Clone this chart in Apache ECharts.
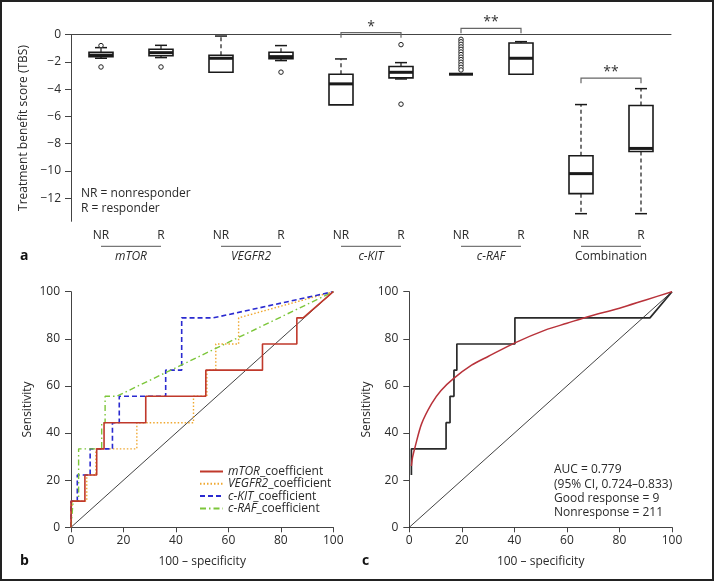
<!DOCTYPE html>
<html>
<head>
<meta charset="utf-8">
<script src="https://cdn.jsdelivr.net/npm/echarts@6/dist/echarts.min.js"></script>
<style>
html,body{margin:0;padding:0;background:#fff;}
#chart{width:714px;height:581px;}
</style>
</head>
<body>
<div id="chart"></div>
<script>
// ---------- Panel a data ----------
const categories = ['NR','R','NR','R','NR','R','NR','R','NR','R'];
const groupNames = ['mTOR','VEGFR2','c-KIT','c-RAF','Combination'];
const boxLow    = [-1.73, -1.68, -2.76, -1.90, -5.15, -3.25, -2.90, -2.90, -13.14, -13.14];
const boxQ1     = [-1.61, -1.54, -2.76, -1.76, -5.15, -3.17, -2.90, -2.90, -11.67, -8.57];
const boxMedian = [-1.50, -1.32, -1.73, -1.61, -3.61, -2.76, -2.90, -1.73, -10.20, -8.35];
const boxQ3     = [-1.29, -1.07, -1.51, -1.29, -2.90, -2.34, -2.90, -0.61, -8.89, -5.20];
const boxHigh   = [-0.95, -0.78, -0.10, -0.80, -1.78, -2.05, -2.90, -0.51, -5.13, -3.96];
const outlierPoints = [
  [0,-0.80],[0,-2.37],[1,-2.37],[3,-2.75],[5,-0.73],[5,-5.10],
  [6,-0.34],[6,-0.52],[6,-0.71],[6,-0.90],[6,-1.08],[6,-1.27],[6,-1.46],
  [6,-1.65],[6,-1.83],[6,-2.02],[6,-2.21],[6,-2.40],[6,-2.59]
];
const sigFrom   = [4, 6, 8];
const sigTo     = [5, 7, 9];
const sigLevel  = [0.15, 0.47, -3.19];
const sigLabels = ['*', '**', '**'];
const yTicksA   = [0, -2, -4, -6, -8, -10, -12];
const yMinA = -13.7, yMaxA = 0;

// ---------- Panel b data ----------
const rocMTOR = [[0,0],[0,11.1],[5.3,11.1],[5.3,22.2],[9.8,22.2],[9.8,33.3],[12.6,33.3],[12.6,44.4],[28.5,44.4],[28.5,55.6],[51.4,55.6],[51.4,66.7],[73,66.7],[73,77.8],[86.1,77.8],[86.1,88.9],[88.5,88.9],[100,100]];
const rocVEGFR2 = [[0,0],[0.5,11.1],[6,11.1],[6,22.2],[9.5,22.2],[9.5,33.3],[25.1,33.3],[25.1,44.4],[46.7,44.4],[46.7,55.6],[51.8,55.6],[51.8,66.7],[55.2,66.7],[55.2,77.8],[63.9,77.8],[63.9,88.9],[100,100]];
const rocCKIT = [[0,0],[0,11.1],[2.4,11.1],[2.4,22.2],[7.3,22.2],[7.3,33.3],[15.8,33.3],[15.8,44.4],[18.4,44.4],[18.4,55.6],[36.1,55.6],[36.1,66.7],[42.2,66.7],[42.2,88.9],[54.3,88.9],[100,100]];
const rocCRAF = [[0,0],[0.8,11.1],[2.9,11.1],[2.9,33.3],[11.7,33.3],[11.7,44.4],[13,44.4],[13,55.6],[17.4,55.6],[100,100]];
const diagonal = [[0,0],[100,100]];

// ---------- Panel c data ----------
const rocCombined = [[0.8,22.2],[0.8,33.3],[14,33.3],[14,44.4],[15.5,44.4],[15.5,55.6],[17,55.6],[17,66.7],[18.1,66.7],[18.1,77.8],[40.2,77.8],[40.2,88.9],[91.6,88.9],[100,100]];
const rocFitted = [[0.8,26],[1.2,29.5],[2.2,34.1],[4.7,44],[8.5,52.5],[12,58],[16.8,63.1],[23.7,68.8],[30,72.5],[40.2,78.3],[51.7,83.7],[60,86.6],[68,89.4],[80,93],[90,96.5],[100,100]];
const aucText = ['AUC = 0.779','(95% CI, 0.724\u20130.833)','Good response = 9','Nonresponse = 211'];

// ---------- Rendering ----------
const FONT = '"Open Sans", sans-serif';
const TXT = '#2a2a2a';
const AX = '#444';
const chart = echarts.init(document.getElementById('chart'), null, {renderer:'canvas'});

const boxData = categories.map((c,i)=>[i, boxLow[i], boxQ1[i], boxMedian[i], boxQ3[i], boxHigh[i]]);
const sigData = sigFrom.map((f,k)=>[f, sigTo[k], sigLevel[k]]);
const groupData = groupNames.map((g,k)=>[2*k, 2*k+1]);

function renderBox(params, api){
  const i = api.value(0);
  const pLow = api.coord([i, api.value(1)]);
  const cx = pLow[0], yLow = pLow[1];
  const yQ1 = api.coord([i, api.value(2)])[1];
  const yMed = api.coord([i, api.value(3)])[1];
  const yQ3 = api.coord([i, api.value(4)])[1];
  const yHigh = api.coord([i, api.value(5)])[1];
  const bw = 24, cw = 12, stroke = '#1a1a1a';
  const ch = [];
  if (yHigh < yQ3 - 0.5) {
    ch.push({type:'line', shape:{x1:cx,y1:yQ3,x2:cx,y2:yHigh}, style:{stroke, lineWidth:1.2, lineDash:[4,3]}});
    ch.push({type:'line', shape:{x1:cx-cw/2,y1:yHigh,x2:cx+cw/2,y2:yHigh}, style:{stroke, lineWidth:1.5}});
  }
  if (yLow > yQ1 + 0.5) {
    ch.push({type:'line', shape:{x1:cx,y1:yQ1,x2:cx,y2:yLow}, style:{stroke, lineWidth:1.2, lineDash:[4,3]}});
    ch.push({type:'line', shape:{x1:cx-cw/2,y1:yLow,x2:cx+cw/2,y2:yLow}, style:{stroke, lineWidth:1.5}});
  }
  ch.push({type:'rect', shape:{x:cx-bw/2, y:yQ3, width:bw, height:Math.max(0, yQ1-yQ3)}, style:{fill:'#fff', stroke, lineWidth:1.6}});
  ch.push({type:'line', shape:{x1:cx-bw/2,y1:yMed,x2:cx+bw/2,y2:yMed}, style:{stroke, lineWidth:3}});
  return {type:'group', children:ch};
}

function renderSig(params, api){
  const a = api.coord([api.value(0), api.value(2)]);
  const b = api.coord([api.value(1), api.value(2)]);
  const leg = 5;
  return {type:'group', children:[
    {type:'polyline', shape:{points:[[a[0],a[1]+leg],[a[0],a[1]],[b[0],b[1]],[b[0],b[1]+leg]]}, style:{stroke:'#666', lineWidth:1.2, fill:null}},
    {type:'text', style:{text:sigLabels[params.dataIndex], x:(a[0]+b[0])/2, y:a[1]-6, align:'center', verticalAlign:'middle', font:'14px ' + FONT, fill:'#333'}}
  ]};
}

function renderGroup(params, api){
  const a = api.coord([api.value(0), yMinA]);
  const b = api.coord([api.value(1), yMinA]);
  const k = params.dataIndex;
  const italic = k < 4;
  return {type:'group', children:[
    {type:'line', shape:{x1:a[0], y1:a[1]+25, x2:b[0], y2:a[1]+25}, style:{stroke:'#555', lineWidth:1}},
    {type:'text', style:{text:groupNames[k], x:(a[0]+b[0])/2, y:a[1]+35, align:'center', verticalAlign:'middle', font:(italic?'italic ':'') + '12px ' + FONT, fill:TXT}}
  ]};
}

const valueAxisCommon = {
  type:'value', min:0, max:100, interval:20,
  axisLine:{show:true, lineStyle:{color:AX, width:1}},
  axisTick:{show:true, length:5, lineStyle:{color:AX}},
  splitLine:{show:false},
  axisLabel:{fontSize:12, fontFamily:FONT, color:TXT},
  nameLocation:'middle',
  nameTextStyle:{fontSize:12, fontFamily:FONT, color:TXT}
};

const option = {
  animation:false,
  backgroundColor:'#fff',
  textStyle:{fontFamily:FONT},
  grid:[
    {left:71, top:34.7, width:600, height:186.6},
    {left:71, top:291.7, width:262.3, height:235.6},
    {left:409.3, top:291.7, width:262.7, height:235.6}
  ],
  xAxis:[
    {type:'category', gridIndex:0, data:categories, boundaryGap:true,
     axisLine:{lineStyle:{color:AX}},
     axisTick:{alignWithLabel:true, length:5, lineStyle:{color:AX}},
     axisLabel:{fontSize:12, fontFamily:FONT, color:TXT, margin:8, interval:0}},
    Object.assign({}, valueAxisCommon, {gridIndex:1, name:'100 \u2013 specificity', nameGap:28,
      axisLabel:Object.assign({}, valueAxisCommon.axisLabel, {margin:7})}),
    Object.assign({}, valueAxisCommon, {gridIndex:2, name:'100 \u2013 specificity', nameGap:28,
      axisLabel:Object.assign({}, valueAxisCommon.axisLabel, {margin:7})})
  ],
  yAxis:[
    {type:'value', gridIndex:0, min:yMinA, max:yMaxA,
     name:'Treatment benefit score (TBS)', nameLocation:'middle', nameGap:37,
     nameTextStyle:{fontSize:12, fontFamily:FONT, color:TXT},
     axisLine:{show:true, lineStyle:{color:AX}},
     axisTick:{show:true, length:6, lineStyle:{color:AX}, customValues:yTicksA},
     axisLabel:{fontSize:12, fontFamily:FONT, color:TXT, margin:10, customValues:yTicksA,
       formatter:v=>String(v).replace('-', '\u2212')},
     splitLine:{show:false}},
    Object.assign({}, valueAxisCommon, {gridIndex:1, name:'Sensitivity', nameGap:37,
      axisTick:{show:true, length:6, lineStyle:{color:AX}},
      axisLabel:Object.assign({}, valueAxisCommon.axisLabel, {margin:11})}),
    Object.assign({}, valueAxisCommon, {gridIndex:2, name:'Sensitivity', nameGap:37,
      axisTick:{show:true, length:6, lineStyle:{color:AX}},
      axisLabel:Object.assign({}, valueAxisCommon.axisLabel, {margin:11})})
  ],
  legend:{
    orient:'vertical', left:199, top:465.5, padding:0,
    itemWidth:23, itemHeight:14, itemGap:0.3,
    itemStyle:{opacity:0},
    data:['mTOR','VEGFR2','c-KIT','c-RAF'],
    formatter:n=>'{i|' + n + '}{n|_coefficient}',
    textStyle:{fontSize:12, fontFamily:FONT, color:TXT,
      rich:{i:{fontStyle:'italic', fontSize:12, fontFamily:FONT, color:TXT}, n:{fontSize:12, fontFamily:FONT, color:TXT}}}
  },
  series:[
    {type:'custom', name:'groups', xAxisIndex:0, yAxisIndex:0, clip:false, silent:true, z:1,
     renderItem:renderGroup, data:groupData},
    {type:'custom', name:'boxes', xAxisIndex:0, yAxisIndex:0, clip:false, silent:true, z:2,
     renderItem:renderBox, encode:{x:0, y:[1,2,3,4,5]}, data:boxData},
    {type:'scatter', name:'outliers', xAxisIndex:0, yAxisIndex:0, silent:true, z:3,
     symbol:'circle', symbolSize:4.5,
     itemStyle:{color:'#fff', borderColor:'#222', borderWidth:1, opacity:1},
     data:outlierPoints},
    {type:'custom', name:'sig', xAxisIndex:0, yAxisIndex:0, clip:false, silent:true, z:2,
     renderItem:renderSig, data:sigData},

    {type:'line', name:'diagB', xAxisIndex:1, yAxisIndex:1, data:diagonal, symbol:'none', silent:true,
     lineStyle:{color:'#111', width:0.8}, z:1},
    {type:'line', name:'mTOR', xAxisIndex:1, yAxisIndex:1, data:rocMTOR, symbol:'none',
     lineStyle:{color:'#c0392b', width:1.6}, itemStyle:{color:'#c0392b'}, z:5},
    {type:'line', name:'VEGFR2', xAxisIndex:1, yAxisIndex:1, data:rocVEGFR2, symbol:'none',
     lineStyle:{color:'#f0a830', width:1.4, type:[1.5,2]}, itemStyle:{color:'#f0a830'}, z:4},
    {type:'line', name:'c-KIT', xAxisIndex:1, yAxisIndex:1, data:rocCKIT, symbol:'none',
     lineStyle:{color:'#2a2ad0', width:1.6, type:[5,3]}, itemStyle:{color:'#2a2ad0'}, z:4},
    {type:'line', name:'c-RAF', xAxisIndex:1, yAxisIndex:1, data:rocCRAF, symbol:'none',
     lineStyle:{color:'#7cc63a', width:1.4, type:[6,3,1.5,3]}, itemStyle:{color:'#7cc63a'}, z:4},

    {type:'line', name:'diagC', xAxisIndex:2, yAxisIndex:2, data:diagonal, symbol:'none', silent:true,
     lineStyle:{color:'#111', width:0.8}, z:1},
    {type:'line', name:'combined', xAxisIndex:2, yAxisIndex:2, data:rocCombined, symbol:'none', silent:true,
     lineStyle:{color:'#2a2a2a', width:1.7}, z:3},
    {type:'line', name:'fitted', xAxisIndex:2, yAxisIndex:2, data:rocFitted, symbol:'none', silent:true, smooth:0.3,
     lineStyle:{color:'#b8323a', width:1.5}, z:4}
  ],
  graphic:[
    {type:'rect', silent:true, shape:{x:1, y:1, width:712, height:579}, style:{fill:null, stroke:'#222', lineWidth:2}, z:100},
    {type:'text', silent:true, style:{text:'NR = nonresponder\nR = responder', x:81, y:186.5, font:'12px ' + FONT, fill:TXT, lineHeight:14.7}},
    {type:'text', silent:true, style:{text:'a', x:20, y:256, verticalAlign:'middle', font:'bold 14px ' + FONT, fill:'#111'}},
    {type:'text', silent:true, style:{text:'b', x:20, y:561.5, verticalAlign:'middle', font:'bold 14px ' + FONT, fill:'#111'}},
    {type:'text', silent:true, style:{text:'c', x:362, y:561.5, verticalAlign:'middle', font:'bold 14px ' + FONT, fill:'#111'}},
    {type:'text', silent:true, style:{text:aucText.join('\n'), x:554, y:462.8, font:'12px ' + FONT, fill:TXT, lineHeight:14.3}}
  ]
};
chart.setOption(option);
</script>
</body>
</html>
